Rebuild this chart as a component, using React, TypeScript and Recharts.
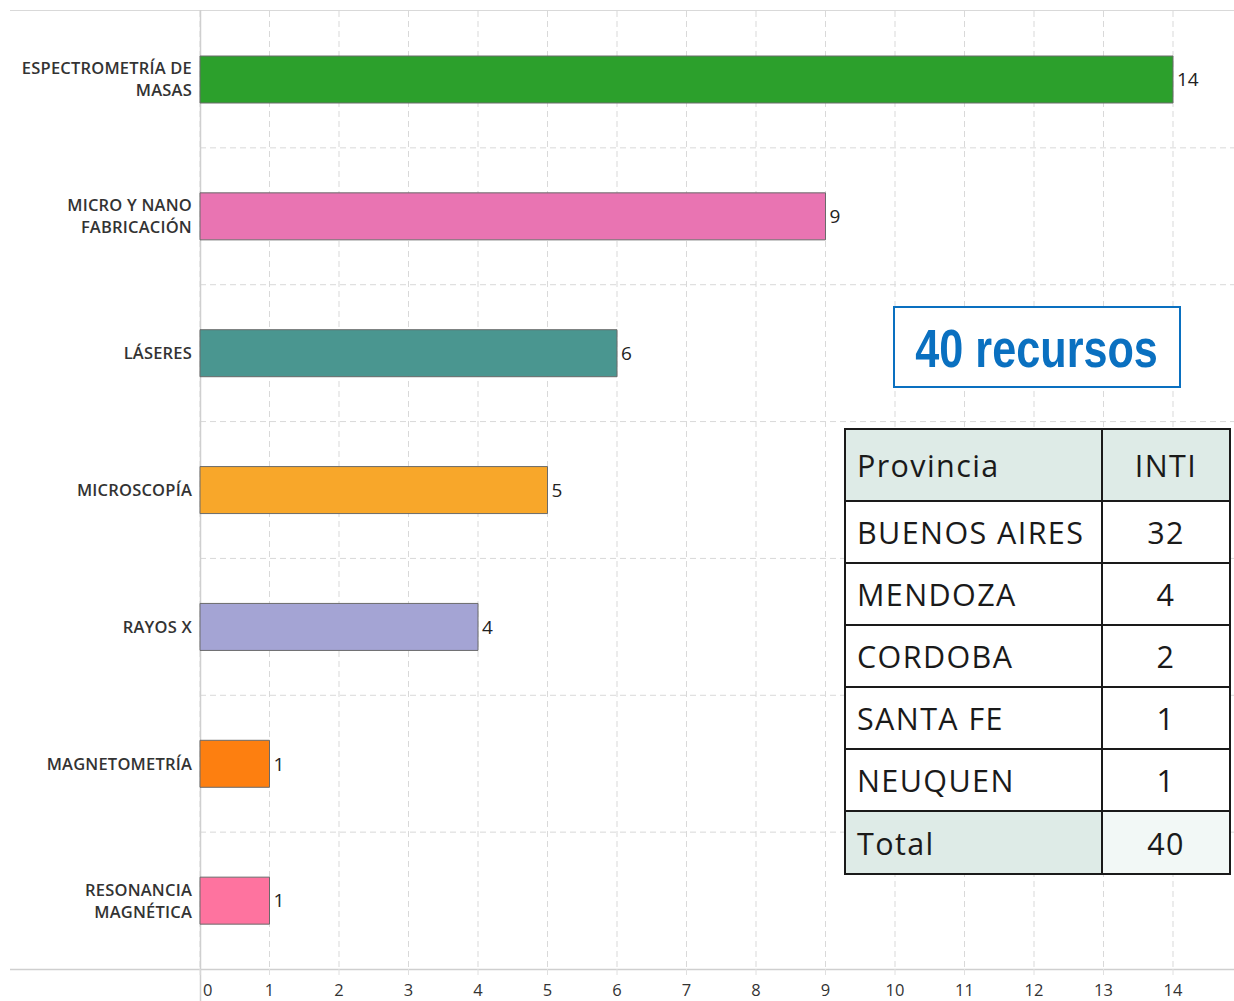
import React from "react";
import {
  BarChart,
  Bar,
  XAxis,
  YAxis,
  CartesianGrid,
  Cell,
  LabelList,
  Customized,
} from "recharts";

const categories = [
  "ESPECTROMETRÍA DE\nMASAS",
  "MICRO Y NANO\nFABRICACIÓN",
  "LÁSERES",
  "MICROSCOPÍA",
  "RAYOS X",
  "MAGNETOMETRÍA",
  "RESONANCIA\nMAGNÉTICA",
];
const values = [14, 9, 6, 5, 4, 1, 1];
const barColors = ["#2ca02c", "#e974b2", "#4a9690", "#f8a72a", "#a4a4d4", "#fd7f10", "#fe739f"];
const xTicks = [0, 1, 2, 3, 4, 5, 6, 7, 8, 9, 10, 11, 12, 13, 14, 15];

const provinces = ["BUENOS AIRES", "MENDOZA", "CORDOBA", "SANTA FE", "NEUQUEN"];
const provinceCounts = [32, 4, 2, 1, 1];
const totalLabel = "Total";
const totalValue = 40;
const badgeText = "40 recursos";

const data = categories.map((c, i) => ({ name: c, value: values[i] }));

const W = 1270;
const H = 1001;
const PLOT_LEFT = 200;
const PLOT_TOP = 11;
const PLOT_BOTTOM = 969;
const X_AXIS_H = H - PLOT_BOTTOM;
const RIGHT_MARGIN = W - (PLOT_LEFT + 15 * 69.5);

const labelFont = "'Open Sans', 'Noto Sans', sans-serif";

const YTick = (props: any) => {
  const { x, y, payload } = props;
  const lines = String(payload.value).split("\n");
  const lh = 22;
  const start = -((lines.length - 1) * lh) / 2;
  return (
    <text
      x={x}
      y={y}
      textAnchor="end"
      fontFamily={labelFont}
      fontSize={16.5}
      fontWeight={600}
      letterSpacing={0.2}
      fill="#333"
    >
      {lines.map((l, i) => (
        <tspan key={i} x={x} y={y + start + i * lh} dy="0.36em">
          {l}
        </tspan>
      ))}
    </text>
  );
};

const XTick = (props: any) => {
  const { x, y, payload } = props;
  const isZero = payload.value === 0;
  return (
    <text
      x={isZero ? x + 3 : x}
      y={y + 19}
      textAnchor={isZero ? "start" : "middle"}
      fontFamily={labelFont}
      fontSize={16.5}
      fill="#333"
    >
      {payload.value}
    </text>
  );
};

const FrameLines = () => (
  <g>
    <line x1={10} x2={1234} y1={10.5} y2={10.5} stroke="#d9d9d9" strokeWidth={1} />
    <line x1={10} x2={1234} y1={PLOT_BOTTOM + 0.5} y2={PLOT_BOTTOM + 0.5} stroke="#cfcfcf" strokeWidth={1.5} />
    <line x1={PLOT_LEFT + 0.5} x2={PLOT_LEFT + 0.5} y1={10} y2={H} stroke="#cfcfcf" strokeWidth={1.5} />
  </g>
);

const cellStyle: React.CSSProperties = {
  border: "2px solid #1a1a1a",
  padding: "0 0 0 11px",
  fontFamily: labelFont,
  fontSize: 30.5,
  fontWeight: 500,
  letterSpacing: 1.4,
  color: "#1a1a1a",
  whiteSpace: "nowrap",
};

export default function App() {
  return (
    <div
      style={{
        position: "absolute",
        left: 0,
        top: 0,
        width: 1234,
        height: 1001,
        overflow: "hidden",
        background: "#fff",
      }}
    >
      <BarChart
        width={W}
        height={H}
        data={data}
        layout="vertical"
        margin={{ top: PLOT_TOP, left: 0, right: RIGHT_MARGIN, bottom: 0 }}
      >
        <CartesianGrid
          stroke="#d9d9d9"
          strokeDasharray="6 4"
          vertical={true}
          horizontal={true}
          horizontalCoordinatesGenerator={(p: any) => {
            const o = p.offset;
            const n = categories.length;
            const arr: number[] = [];
            for (let k = 1; k < n; k++) arr.push(o.top + (o.height * k) / n);
            return arr;
          }}
        />
        <XAxis
          type="number"
          domain={[0, 15]}
          ticks={xTicks}
          interval={0}
          height={X_AXIS_H}
          axisLine={false}
          tickLine={{ stroke: "#e0e0e0" }}
          tickSize={6}
          tickMargin={2}
          tick={<XTick />}
        />
        <YAxis
          type="category"
          dataKey="name"
          width={PLOT_LEFT}
          axisLine={false}
          tickLine={false}
          tickSize={0}
          tickMargin={8}
          interval={0}
          tick={<YTick />}
        />
        <Bar dataKey="value" barSize={47} stroke="#6a6a6a" strokeWidth={1} isAnimationActive={false}>
          {data.map((d, i) => (
            <Cell key={i} fill={barColors[i]} />
          ))}
          <LabelList
            dataKey="value"
            position="right"
            offset={4}
            fill="#222"
            fontSize={19}
            fontFamily={labelFont}
          />
        </Bar>
        <Customized component={FrameLines} />
      </BarChart>

      <div
        style={{
          position: "absolute",
          left: 893,
          top: 306,
          width: 284,
          height: 78,
          border: "2px solid #0a70c0",
          background: "#fff",
          display: "flex",
          alignItems: "center",
          justifyContent: "center",
          overflow: "hidden",
        }}
      >
        <span
          style={{
            display: "inline-block",
            whiteSpace: "nowrap",
            fontFamily: "'Liberation Sans', Arial, sans-serif",
            fontWeight: 700,
            fontSize: 54,
            color: "#0a70c0",
            lineHeight: 1,
            transform: "scaleX(0.8)",
            marginTop: 2,
          }}
        >
          {badgeText}
        </span>
      </div>

      <table
        style={{
          position: "absolute",
          left: 844,
          top: 428,
          width: 387,
          borderCollapse: "collapse",
          background: "#fff",
        }}
      >
        <tbody>
          <tr style={{ height: 72 }}>
            <td style={{ ...cellStyle, width: 244, background: "#deebe7" }}>Provincia</td>
            <td style={{ ...cellStyle, padding: 0, textAlign: "center", background: "#deebe7" }}>INTI</td>
          </tr>
          {provinces.map((p, i) => (
            <tr key={p} style={{ height: 62 }}>
              <td style={cellStyle}>{p}</td>
              <td style={{ ...cellStyle, padding: 0, textAlign: "center" }}>{provinceCounts[i]}</td>
            </tr>
          ))}
          <tr style={{ height: 63 }}>
            <td style={{ ...cellStyle, background: "#deebe7" }}>{totalLabel}</td>
            <td style={{ ...cellStyle, padding: 0, textAlign: "center", background: "#f2f8f6" }}>{totalValue}</td>
          </tr>
        </tbody>
      </table>
    </div>
  );
}
